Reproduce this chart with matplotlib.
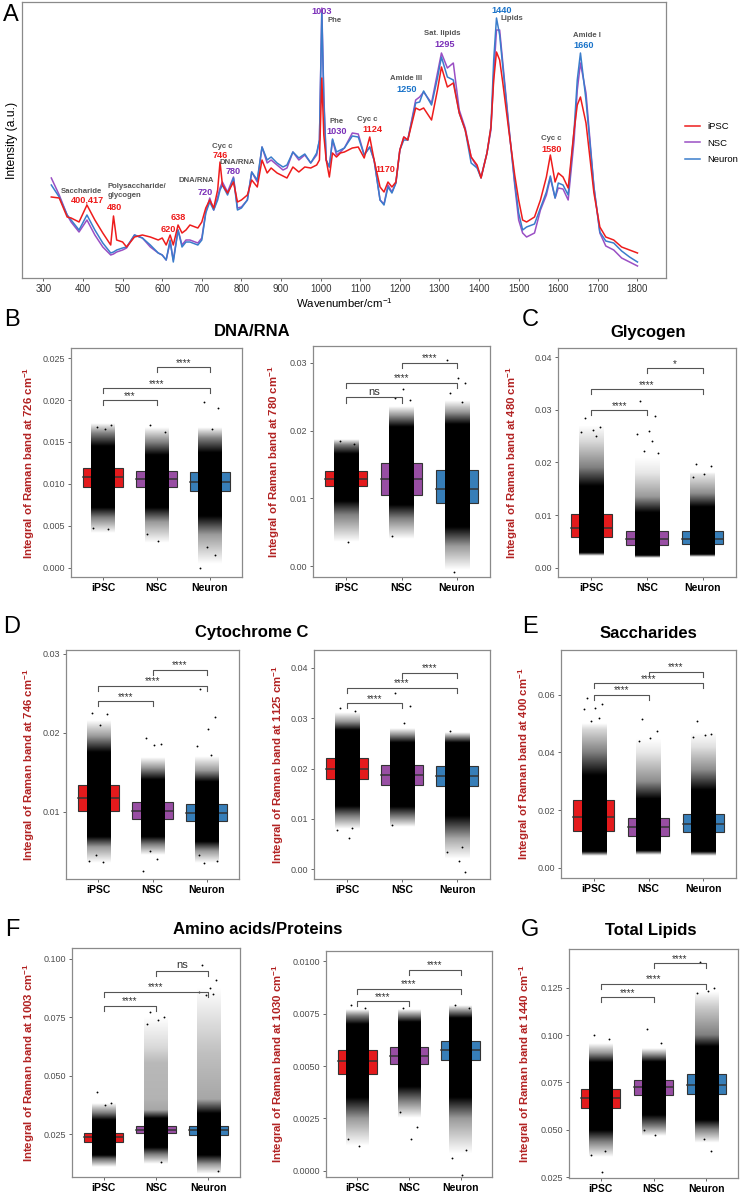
import numpy as np
import matplotlib
matplotlib.use("Agg")
import matplotlib.pyplot as plt
from matplotlib.patches import Rectangle

plt.rcParams["font.family"] = ["Liberation Sans", "DejaVu Sans"]
plt.rcParams["mathtext.default"] = "regular"

W, H = 742, 1196

# ---------------- panel A: mean spectra ----------------
WN = [320, 340, 360, 370, 390, 410, 430, 450, 470, 477, 485, 500, 510, 530, 550, 570, 590, 600,
      610, 620, 628, 640, 650, 660, 670, 690, 700, 710, 720, 730, 740, 746, 752, 765, 780, 790,
      800, 815, 826, 840, 852, 865, 875, 890, 905, 915, 930, 945, 960, 975, 990, 997, 1003, 1008,
      1014, 1022, 1030, 1040, 1050, 1060, 1080, 1095, 1110, 1124, 1135, 1150, 1160, 1170, 1180,
      1190, 1200, 1210, 1220, 1240, 1250, 1260, 1280, 1295, 1305, 1320, 1335, 1350, 1365, 1380,
      1395, 1405, 1420, 1430, 1437, 1444, 1452, 1460, 1475, 1490, 1500, 1510, 1520, 1540, 1555,
      1570, 1580, 1592, 1600, 1612, 1625, 1640, 1648, 1656, 1670, 1690, 1705, 1720, 1740, 1760,
      1780, 1800]
IPSC_I = [83, 82, 63, 62, 58, 75, 60, 47, 35, 64, 40, 38, 33, 43, 45, 43, 40, 42, 35, 45,
          35, 55, 47, 50, 55, 52, 58, 72, 80, 72, 90, 118, 95, 87, 98, 78, 80, 85, 100, 93,
          120, 107, 112, 107, 104, 102, 113, 108, 113, 112, 115, 120, 202, 145, 120, 103, 127, 123, 127, 128,
          132, 133, 122, 143, 120, 93, 88, 98, 93, 98, 130, 143, 140, 172, 170, 172, 160, 190, 213, 193,
          197, 167, 150, 123, 115, 102, 127, 153, 200, 228, 220, 197, 150, 105, 80, 60, 58, 63, 80, 103,
          125, 98, 107, 103, 92, 150, 175, 183, 157, 87, 53, 43, 40, 33, 30, 27]
NSC_I = [102, 85, 65, 58, 48, 60, 45, 33, 25, 26, 28, 30, 32, 45, 42, 33, 27, 25, 20, 38,
         20, 50, 35, 40, 40, 37, 42, 68, 82, 70, 83, 92, 98, 88, 103, 72, 73, 80, 108, 98,
         133, 117, 120, 115, 110, 112, 128, 120, 125, 117, 125, 140, 272, 185, 120, 113, 140, 125, 128, 132,
         147, 146, 125, 133, 120, 80, 76, 95, 88, 97, 130, 143, 140, 180, 183, 188, 177, 207, 227, 212,
         217, 170, 152, 123, 113, 103, 127, 150, 205, 250, 250, 217, 155, 95, 60, 47, 43, 47, 70, 85,
         102, 82, 92, 91, 80, 140, 190, 217, 187, 93, 47, 34, 30, 22, 18, 14]
NEURON_I = [95, 83, 65, 60, 50, 65, 50, 37, 27, 28, 30, 32, 33, 45, 42, 35, 27, 25, 20, 40,
            18, 50, 33, 38, 38, 35, 40, 67, 78, 70, 80, 90, 95, 85, 102, 70, 72, 80, 108, 100,
            133, 120, 123, 117, 113, 115, 128, 122, 126, 117, 127, 140, 267, 180, 120, 113, 141, 128, 130, 132,
            144, 143, 125, 133, 120, 80, 75, 93, 87, 97, 130, 140, 140, 177, 178, 189, 175, 202, 223, 203,
            200, 167, 150, 117, 112, 102, 127, 153, 220, 262, 245, 213, 153, 98, 67, 50, 53, 56, 72, 88,
            104, 82, 97, 95, 85, 150, 200, 227, 180, 93, 48, 39, 37, 29, 23, 18]

# band annotations: (wavenumber, intensity, text, kind)
PEAK_LABELS = [
    (395, 88, "Saccharide", "grey"), (410, 80, "400,417", "red"),
    (461, 93, "Polysaccharide/", "grey_l"), (461, 84, "glycogen", "grey_l"), (479, 72, "480", "red"),
    (640, 63, "638", "red"), (616, 50, "620", "red"),
    (687, 99, "DNA/RNA", "grey"), (708, 87, "720", "purple"),
    (751, 134, "Cyc c", "grey"), (746, 125, "746", "red"),
    (789, 118, "DNA/RNA", "grey"), (779, 109, "780", "purple"),
    (1003, 268, "1003", "purple"), (1034, 259, "Phe", "grey"),
    (1041, 158, "Phe", "grey"), (1041, 148, "1030", "purple"),
    (1118, 160, "Cyc c", "grey"), (1130, 150, "1124", "red"),
    (1163, 111, "1170", "red"),
    (1216, 201, "Amide III", "grey"), (1218, 190, "1250", "blue"),
    (1307, 246, "Sat. lipids", "grey"), (1312, 235, "1295", "purple"),
    (1456, 269, "1440", "blue"), (1483, 261, "Lipids", "grey"),
    (1583, 142, "Cyc c", "grey"), (1583, 131, "1580", "red"),
    (1673, 244, "Amide I", "grey"), (1663, 234, "1660", "blue"),
]

# ---------------- box panels ----------------
GROUPS = ["iPSC", "NSC", "Neuron"]

# (q1, median, q3) per group
B1_BOX = [(0.00964, 0.0108, 0.0119), (0.0096, 0.0106, 0.0115), (0.0091, 0.0102, 0.0114)]
B2_BOX = [(0.0118, 0.0129, 0.0140), (0.0105, 0.0129, 0.0152), (0.0093, 0.0114, 0.0142)]
C_BOX = [(0.0058, 0.0075, 0.0102), (0.0043, 0.0054, 0.0069), (0.0045, 0.0055, 0.0070)]
D1_BOX = [(0.0101, 0.0118, 0.01335), (0.0091, 0.0101, 0.0113), (0.0088, 0.0098, 0.0110)]
D2_BOX = [(0.0180, 0.0200, 0.0220), (0.0168, 0.0188, 0.0208), (0.0165, 0.0185, 0.0205)]
E_BOX = [(0.0127, 0.0175, 0.0234), (0.0111, 0.0140, 0.0171), (0.0123, 0.0152, 0.0185)]
F1_BOX = [(0.0218, 0.0237, 0.0254), (0.0254, 0.0269, 0.0286), (0.0244, 0.0266, 0.0286)]
F2_BOX = [(0.00464, 0.00524, 0.00575), (0.0051, 0.0055, 0.0059), (0.0053, 0.00576, 0.00618)]
G_BOX = [(0.0618, 0.0670, 0.0718), (0.0683, 0.0727, 0.0762), (0.0687, 0.0739, 0.0796)]

# point-cloud density: (value, density 0..1)
B1_CLOUD = [[(0.0042, 0), (0.0060, 0.5), (0.0072, 1), (0.0145, 1), (0.0160, 0.5), (0.0172, 0)],
            [(0.0030, 0), (0.0055, 0.4), (0.0072, 1), (0.0135, 1), (0.0150, 0.5), (0.0168, 0)],
            [(0.0005, 0), (0.0040, 0.4), (0.0062, 1), (0.0138, 1), (0.0155, 0.5), (0.0168, 0)]]
B2_CLOUD = [[(0.0035, 0), (0.0075, 0.5), (0.0095, 1), (0.0165, 1), (0.0178, 0.5), (0.0186, 0)],
            [(0.0040, 0), (0.0070, 0.5), (0.0090, 1), (0.0205, 1), (0.0222, 0.4), (0.0235, 0)],
            [(-0.0005, 0), (0.0030, 0.4), (0.0058, 1), (0.0210, 1), (0.0228, 0.4), (0.0245, 0)]]
C_CLOUD = [[(0.0022, 0), (0.0028, 1), (0.0155, 1), (0.0190, 0.5), (0.0240, 0.15), (0.0270, 0)],
           [(0.0018, 0), (0.0023, 1), (0.0105, 1), (0.0135, 0.4), (0.0180, 0.1), (0.0210, 0)],
           [(0.0020, 0), (0.0025, 1), (0.0115, 1), (0.0140, 0.45), (0.0175, 0.1), (0.0180, 0)]]
D1_CLOUD = [[(0.0035, 0), (0.0055, 0.4), (0.0068, 1), (0.0175, 1), (0.0195, 0.4), (0.0215, 0)],
            [(0.0045, 0), (0.0058, 0.5), (0.0068, 1), (0.0140, 1), (0.0155, 0.4), (0.0168, 0)],
            [(0.0035, 0), (0.0050, 0.4), (0.0062, 1), (0.0138, 1), (0.0152, 0.4), (0.0170, 0)]]
D2_CLOUD = [[(0.0080, 0), (0.0105, 0.5), (0.0125, 1), (0.0275, 1), (0.0292, 0.4), (0.0310, 0)],
            [(0.0085, 0), (0.0105, 0.5), (0.0125, 1), (0.0252, 1), (0.0268, 0.4), (0.0280, 0)],
            [(0.0020, 0), (0.0060, 0.35), (0.0105, 1), (0.0250, 1), (0.0262, 0.4), (0.0270, 0)]]
E_CLOUD = [[(0.0040, 0), (0.0055, 1), (0.0320, 1), (0.0400, 0.5), (0.0480, 0.15), (0.0500, 0)],
           [(0.0045, 0), (0.0060, 1), (0.0240, 1), (0.0300, 0.45), (0.0400, 0.1), (0.0450, 0)],
           [(0.0040, 0), (0.0055, 1), (0.0270, 1), (0.0340, 0.45), (0.0420, 0.12), (0.0470, 0)]]
F1_CLOUD = [[(0.011, 0), (0.0145, 0.6), (0.016, 1), (0.031, 1), (0.034, 0.5), (0.038, 0)],
            [(0.012, 0), (0.016, 0.5), (0.019, 1), (0.0315, 1), (0.035, 0.35), (0.040, 0.3),
             (0.055, 0.28), (0.062, 0.15), (0.075, 0)],
            [(0.008, 0), (0.012, 0.4), (0.016, 1), (0.034, 1), (0.040, 0.35), (0.060, 0.25),
             (0.075, 0.12), (0.088, 0)]]
F2_CLOUD = [[(0.0012, 0), (0.0025, 0.4), (0.0035, 1), (0.0070, 1), (0.0074, 0.5), (0.0077, 0)],
            [(0.0025, 0), (0.0033, 0.5), (0.0040, 1), (0.0071, 1), (0.0074, 0.5), (0.0077, 0)],
            [(0.0008, 0), (0.0025, 0.4), (0.0035, 1), (0.0073, 1), (0.0076, 0.5), (0.0079, 0)]]
G_CLOUD = [[(0.036, 0), (0.044, 0.5), (0.050, 1), (0.086, 1), (0.091, 0.4), (0.096, 0)],
           [(0.047, 0), (0.052, 0.5), (0.058, 1), (0.086, 1), (0.090, 0.4), (0.093, 0)],
           [(0.043, 0), (0.050, 0.5), (0.055, 1), (0.094, 1), (0.100, 0.5), (0.115, 0.2), (0.123, 0)]]

# isolated points
B1_OUT = [[0.0168, 0.0170, 0.0165, 0.0048, 0.0046], [0.0170, 0.0162, 0.0032, 0.0040],
          [0.0198, 0.0190, 0.0166, 0.0000, 0.0015, 0.0025]]
B2_OUT = [[0.0185, 0.0181, 0.0036], [0.0248, 0.0245, 0.0262, 0.0045],
          [0.0255, 0.0271, 0.0278, 0.0305, 0.0242, -0.0008]]
C_OUT = [[0.0285, 0.0268, 0.0262, 0.0258, 0.0250], [0.0318, 0.0288, 0.0260, 0.0255, 0.0240, 0.0222, 0.0218],
         [0.0198, 0.0193, 0.0178, 0.0172]]
D1_OUT = [[0.0225, 0.0224, 0.0210, 0.0038, 0.0036, 0.0045], [0.0193, 0.0186, 0.0185, 0.0025, 0.0040, 0.0050],
          [0.0255, 0.0220, 0.0205, 0.0183, 0.0172, 0.0035, 0.0038, 0.0045]]
D2_OUT = [[0.0320, 0.0314, 0.0062, 0.0078, 0.0082], [0.0350, 0.0324, 0.0290, 0.0088],
          [0.0275, -0.0006, 0.0016, 0.0035, 0.0045]]
E_OUT = [[0.0590, 0.0570, 0.0555, 0.0550, 0.0520, 0.0510], [0.0517, 0.0473, 0.0450, 0.0440],
         [0.0510, 0.0465, 0.0460, 0.0455]]
F1_OUT = [[0.0430, 0.0385, 0.0375], [0.0772, 0.0750, 0.0740, 0.0720, 0.0132],
          [0.0974, 0.0910, 0.0875, 0.0860, 0.0850, 0.0845, 0.0090]]
F2_OUT = [[0.0079, 0.0078, 0.0012, 0.0015], [0.0078, 0.0021, 0.0015, 0.0028],
          [0.0079, 0.0078, -0.0002, 0.0006, 0.0010]]
G_OUT = [[0.1000, 0.0980, 0.0280, 0.0370, 0.0390], [0.1034, 0.0960, 0.0472, 0.0500],
         [0.1384, 0.1245, 0.1230, 0.1220, 0.0390, 0.0450]]

# significance brackets: (group a, group b, height, label)
B1_SIG = [(1, 2, 0.0200, "***"), (1, 3, 0.0214, "****"), (2, 3, 0.0239, "****")]
B2_SIG = [(1, 2, 0.0249, "ns"), (1, 3, 0.0271, "****"), (2, 3, 0.0300, "****")]
C_SIG = [(1, 2, 0.0300, "****"), (1, 3, 0.0340, "****"), (2, 3, 0.0380, "*")]
D1_SIG = [(1, 2, 0.0240, "****"), (1, 3, 0.0260, "****"), (2, 3, 0.0280, "****")]
D2_SIG = [(1, 2, 0.0330, "****"), (1, 3, 0.0360, "****"), (2, 3, 0.0390, "****")]
E_SIG = [(1, 2, 0.0600, "****"), (1, 3, 0.0640, "****"), (2, 3, 0.0680, "****")]
F1_SIG = [(1, 2, 0.0800, "****"), (1, 3, 0.0860, "****"), (2, 3, 0.0949, "ns")]
F2_SIG = [(1, 2, 0.0081, "****"), (1, 3, 0.0087, "****"), (2, 3, 0.0096, "****")]
G_SIG = [(1, 2, 0.1200, "****"), (1, 3, 0.1270, "****"), (2, 3, 0.1377, "****")]

# ---------------- styling ----------------
LINE_COLORS = {"iPSC": "#EE1C1C", "NSC": "#9A4FC4", "Neuron": "#3A7DCB"}
TEXT_COLORS = {"red": "#EE1C1C", "purple": "#7A2FB8", "blue": "#1A73C9", "grey": "#555555", "grey_l": "#555555"}
BOX_COLORS = ["#E41A1C", "#984EA3", "#377EB8"]
FRAME = "#8a8a8a"
JIT = [-0.12, 0.15, 0.03, -0.18, 0.09, -0.05, 0.19, -0.14, 0.06]


def add_ax(l, t, r, b):
    return fig.add_axes([l / W, 1 - b / H, (r - l) / W, (b - t) / H])


def style_frame(ax):
    for s in ax.spines.values():
        s.set_color(FRAME)
        s.set_linewidth(0.9)


def box_panel(rect, band, ylim, ticks, fmt, boxes, clouds, outs, sigs, lab_x):
    l, t, r, b = rect
    ax = add_ax(*rect)
    for k in range(3):
        x = k + 1
        q1, med, q3 = boxes[k]
        ax.add_patch(Rectangle((x - 0.375, q1), 0.75, q3 - q1, fc=BOX_COLORS[k],
                               ec="#333333", lw=0.8, zorder=2))
        ax.plot([x - 0.375, x + 0.375], [med, med], color="#333333", lw=1.1, zorder=2.5)
        ys = np.array([p[0] for p in clouds[k]])
        ds = np.array([p[1] for p in clouds[k]])
        grid = np.linspace(ys[0], ys[-1], 300)
        rgba = np.zeros((300, 1, 4))
        rgba[:, 0, 3] = np.interp(grid, ys, ds)
        ax.imshow(rgba, extent=(x - 0.22, x + 0.22, ys[0], ys[-1]), origin="lower",
                  aspect="auto", interpolation="bilinear", zorder=3)
        ox = [x + JIT[i % len(JIT)] for i in range(len(outs[k]))]
        ax.scatter(ox, outs[k], s=1.8, color="black", lw=0, zorder=4)
    span = ylim[1] - ylim[0]
    for a, bb, y, lab in sigs:
        ax.plot([a, a, bb, bb], [y - 0.022 * span, y, y, y - 0.022 * span],
                color="#555555", lw=0.8, zorder=5)
        if lab == "ns":
            ax.text((a + bb) / 2, y + 0.012 * span, lab, ha="center", va="baseline",
                    fontsize=8, color="#333333")
        else:
            ax.text((a + bb) / 2, y + 0.006 * span, lab, ha="center", va="baseline",
                    fontsize=7, color="#333333")
    ax.set_xlim(0.4, 3.6)
    ax.set_ylim(*ylim)
    ax.set_xticks([1, 2, 3])
    ax.set_xticklabels(GROUPS, fontsize=7.5, fontweight="bold", color="black")
    ax.set_yticks(ticks)
    ax.set_yticklabels([fmt % v for v in ticks], fontsize=6.5, color="#4d4d4d")
    ax.tick_params(length=2.5, width=0.6, color="#4d4d4d", pad=1.5)
    style_frame(ax)
    ax.set_ylabel(f"Integral of Raman band at {band} cm$^{{-1}}$", color="#B22222",
                  fontweight="bold", fontsize=8.2)
    ax.yaxis.set_label_coords((lab_x + 5 - l) / (r - l), 0.5)
    return ax


fig = plt.figure(figsize=(W / 100, H / 100), dpi=100)

# ---------------- panel A ----------------
axA = add_ax(22, 2, 666, 278)
axA.plot(WN, IPSC_I, color=LINE_COLORS["iPSC"], lw=1.1, label="iPSC", zorder=3)
axA.plot(WN, NSC_I, color=LINE_COLORS["NSC"], lw=1.1, label="NSC", zorder=2)
axA.plot(WN, NEURON_I, color=LINE_COLORS["Neuron"], lw=1.1, label="Neuron", zorder=2.5)
for wn, inten, txt, kind in PEAK_LABELS:
    if kind.startswith("grey"):
        axA.text(wn, inten, txt, fontsize=5.6, fontweight="bold", color=TEXT_COLORS[kind],
                 ha="left" if kind == "grey_l" else "center", va="center")
    else:
        axA.text(wn, inten, txt, fontsize=6.6, fontweight="bold", color=TEXT_COLORS[kind],
                 ha="center", va="center")
axA.set_xlim(246, 1872)
axA.set_ylim(2, 278)
axA.set_xticks(range(300, 1801, 100))
axA.set_xticklabels([str(v) for v in range(300, 1801, 100)], fontsize=6.9, color="#333333")
axA.set_yticks([])
axA.tick_params(length=2.5, width=0.6, color="#4d4d4d", pad=1.5)
style_frame(axA)
axA.set_xlabel("Wavenumber/cm$^{-1}$", fontsize=8.2, labelpad=2)
axA.set_ylabel("Intensity (a.u.)", fontsize=8.7, labelpad=3)
fig.legend(loc="center left", bbox_to_anchor=(676 / W, 1 - 143 / H), frameon=False,
           fontsize=6.8, handlelength=1.6, labelspacing=0.8, handletextpad=0.8)

# ---------------- box panels ----------------
box_panel((71, 348, 242, 577), 726, (-0.0011, 0.0262), [0, 0.005, 0.01, 0.015, 0.02, 0.025], "%.3f",
          B1_BOX, B1_CLOUD, B1_OUT, B1_SIG, 32)
box_panel((313, 346, 490, 577), 780, (-0.0016, 0.0325), [0, 0.01, 0.02, 0.03], "%.2f",
          B2_BOX, B2_CLOUD, B2_OUT, B2_SIG, 277)
box_panel((558, 348, 736, 577), 480, (-0.0018, 0.0418), [0, 0.01, 0.02, 0.03, 0.04], "%.2f",
          C_BOX, C_CLOUD, C_OUT, C_SIG, 515)
box_panel((66, 650, 239, 879), 746, (0.0015, 0.0305), [0.01, 0.02, 0.03], "%.2f",
          D1_BOX, D1_CLOUD, D1_OUT, D1_SIG, 32)
box_panel((314, 650, 490, 879), 1125, (-0.0019, 0.0435), [0, 0.01, 0.02, 0.03, 0.04], "%.2f",
          D2_BOX, D2_CLOUD, D2_OUT, D2_SIG, 281)
box_panel((561, 650, 736, 878), 400, (-0.0036, 0.0756), [0, 0.02, 0.04, 0.06], "%.2f",
          E_BOX, E_CLOUD, E_OUT, E_SIG, 527)
box_panel((72, 948, 240, 1177), 1003, (0.0066, 0.1047), [0.025, 0.05, 0.075, 0.1], "%.3f",
          F1_BOX, F1_CLOUD, F1_OUT, F1_SIG, 32)
box_panel((326, 951, 492, 1177), 1030, (-0.0003, 0.0105), [0, 0.0025, 0.005, 0.0075, 0.01], "%.4f",
          F2_BOX, F2_CLOUD, F2_OUT, F2_SIG, 281)
box_panel((569, 949, 738, 1178), 1440, (0.0247, 0.1453), [0.025, 0.05, 0.075, 0.1, 0.125], "%.3f",
          G_BOX, G_CLOUD, G_OUT, G_SIG, 528)

# ---------------- letters and titles ----------------
for txt, x, y in [("A", 11, 15), ("B", 12, 320), ("C", 530, 320), ("D", 12, 627),
                  ("E", 530, 627), ("F", 12, 930), ("G", 530, 930)]:
    fig.text(x / W, 1 - y / H, txt, fontsize=17, ha="center", va="center")
for txt, x, y in [("DNA/RNA", 252, 332), ("Glycogen", 648, 332), ("Cytochrome C", 252, 633),
                  ("Saccharides", 648, 633), ("Amino acids/Proteins", 258, 930),
                  ("Total Lipids", 651, 930)]:
    fig.text(x / W, 1 - y / H, txt, fontsize=12, fontweight="bold", ha="center", va="center")

fig.savefig("out.png", dpi=100)
